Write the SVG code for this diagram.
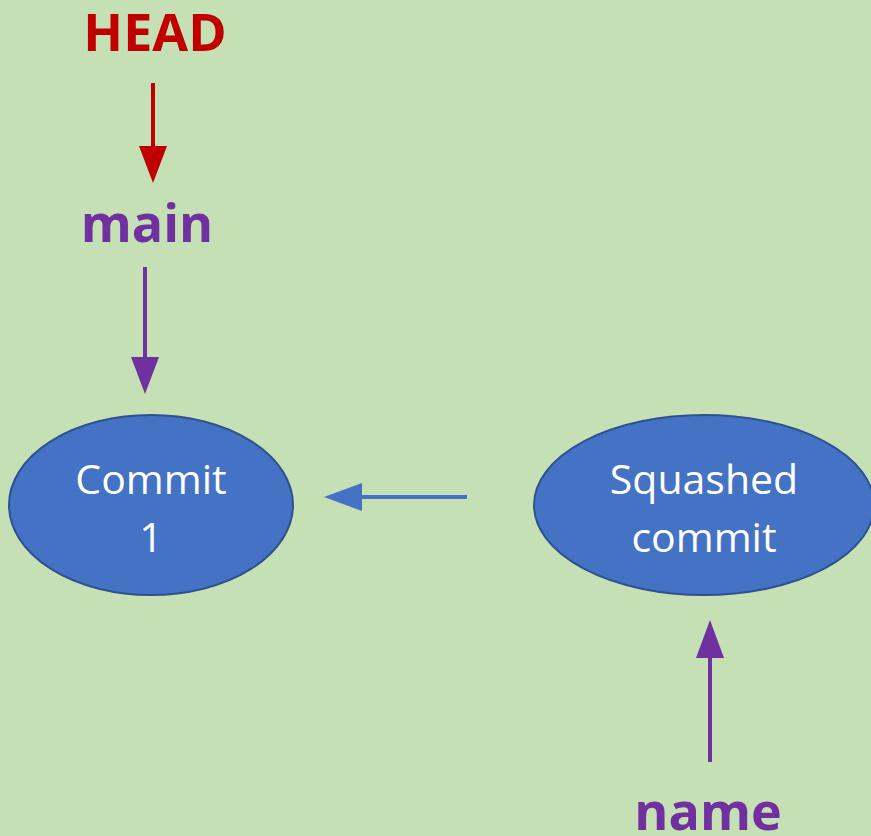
<svg xmlns="http://www.w3.org/2000/svg" width="871" height="836" viewBox="0 0 871 836">
<style>
.bg{fill:#C5E0B4}
.node{fill:#4472C4;stroke:#2F528F;stroke-width:2}
.wt{font-family:"Open Sans","Liberation Sans",sans-serif;font-size:41px;fill:#FFFFFF;text-anchor:middle}
.lbl{font-family:"Open Sans","Liberation Sans",sans-serif;font-size:52px;font-weight:bold;text-anchor:middle}
.red{fill:#C00000}
.pur{fill:#7030A0}
.ln{stroke-width:4;fill:none}
</style>
<rect class="bg" x="0" y="0" width="871" height="836"/>
<g id="commit1">
<ellipse class="node" cx="151" cy="505" rx="142" ry="90"/>
<text class="wt" x="151" y="494">Commit</text>
<text class="wt" x="151" y="552">1</text>
</g>
<g id="squashed">
<ellipse class="node" cx="704" cy="505" rx="170" ry="90"/>
<text class="wt" x="704" y="494">Squashed</text>
<text class="wt" x="704" y="552">commit</text>
</g>
<g id="head"><text class="lbl red" x="155" y="51">HEAD</text></g>
<g id="main"><text class="lbl pur" x="147" y="242">main</text></g>
<g id="name"><text class="lbl pur" x="708" y="830">name</text></g>
<g id="connectors">
<line class="ln" stroke="#C00000" x1="153" y1="83" x2="153" y2="148"/>
<polygon class="red" points="139,146 167,146 153,183"/>
<line class="ln" stroke="#7030A0" x1="145" y1="267" x2="145" y2="360"/>
<polygon class="pur" points="131,357 159,357 145,394"/>
<line class="ln" stroke="#4472C4" x1="467" y1="497" x2="360" y2="497"/>
<polygon fill="#4472C4" points="362,483 362,511 324,497"/>
<line class="ln" stroke="#7030A0" x1="710" y1="762" x2="710" y2="656"/>
<polygon class="pur" points="696,658 724,658 710,620"/>
</g>
</svg>
